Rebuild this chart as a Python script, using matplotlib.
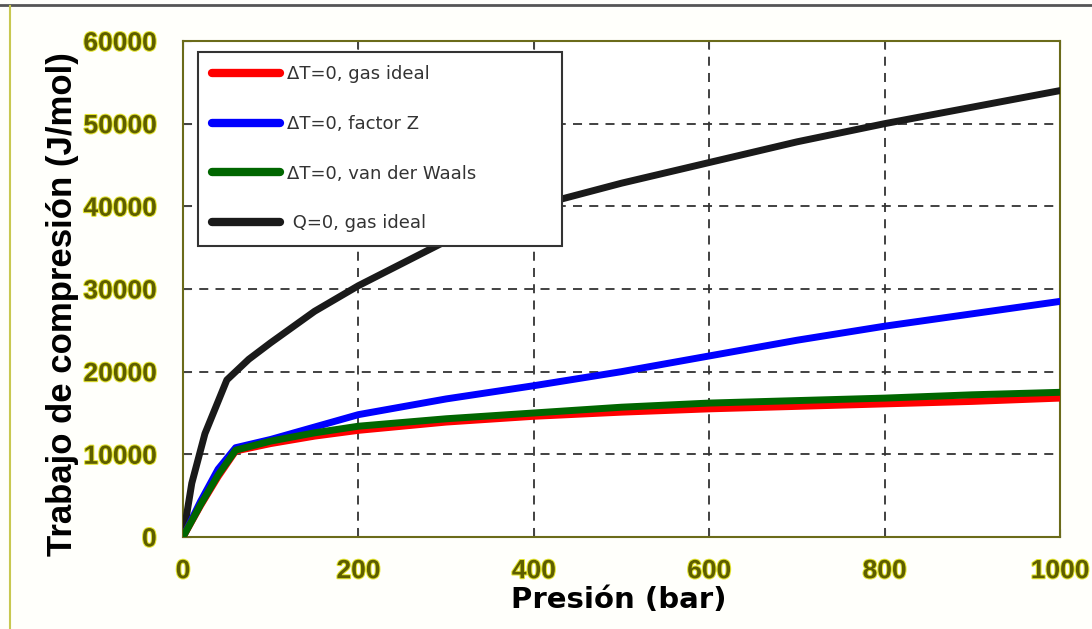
import matplotlib
matplotlib.use("Agg")
import matplotlib.pyplot as plt
import matplotlib.patheffects as pe
from matplotlib.lines import Line2D

# Data (pressure in bar, work in J/mol)
p_iso = [0, 20, 40, 60, 100, 150, 200, 300, 400, 500, 600, 700, 800, 900, 1000]
w_ideal = [0, 3800, 7300, 10400, 11300, 12200, 12900, 13900, 14600, 15100, 15500, 15800, 16100, 16400, 16800]
w_z = [0, 4300, 8200, 10800, 11800, 13300, 14800, 16700, 18300, 20000, 21900, 23800, 25500, 27000, 28500]
w_vdw = [0, 3900, 7500, 10500, 11600, 12600, 13400, 14300, 15000, 15700, 16200, 16500, 16800, 17200, 17500]

p_adi = [0, 10, 25, 50, 75, 100, 150, 200, 300, 400, 500, 600, 700, 800, 900, 1000]
w_adi = [0, 6500, 12500, 19000, 21500, 23500, 27300, 30400, 35800, 40000, 42800, 45300, 47800, 50000, 52000, 54000]

labels = ["\u0394T=0, gas ideal", "\u0394T=0, factor Z", "\u0394T=0, van der Waals", " Q=0, gas ideal"]
colors = ["#ff0000", "#0000ff", "#006600", "#1a1a1a"]

xticks = [0, 200, 400, 600, 800, 1000]
yticks = [0, 10000, 20000, 30000, 40000, 50000, 60000]

fig = plt.figure(figsize=(10.92, 6.29), dpi=100)
fig.patch.set_facecolor("#fffffb")
ax = fig.add_axes([0.1676, 0.1463, 0.8031, 0.7885])
ax.set_facecolor("white")

lw = 5.0
ax.plot(p_adi, w_adi, color=colors[3], lw=lw, solid_capstyle="round", solid_joinstyle="round", zorder=3)
ax.plot(p_iso, w_z, color=colors[1], lw=lw, solid_capstyle="round", solid_joinstyle="round", zorder=3)
ax.plot(p_iso, w_ideal, color=colors[0], lw=lw, solid_capstyle="round", solid_joinstyle="round", zorder=4)
ax.plot(p_iso, w_vdw, color=colors[2], lw=lw, solid_capstyle="round", solid_joinstyle="round", zorder=5)

ax.set_xlim(0, 1000)
ax.set_ylim(0, 60000)
ax.set_xticks(xticks)
ax.set_yticks(yticks)
ax.set_xticklabels([str(v) for v in xticks])
ax.set_yticklabels([str(v) for v in yticks])
ax.grid(True, color="#333333", linestyle=(0, (5, 4)), linewidth=1.3)

for s in ax.spines.values():
    s.set_color("#6b6b1a")
    s.set_linewidth(1.5)

ax.tick_params(direction="in", length=6, color="#444444", top=True, right=False)
ax.tick_params(axis="y", pad=19)
ax.tick_params(axis="x", pad=16)
halo = [pe.withStroke(linewidth=1.5, foreground="#e4e430")]
for t in ax.get_xticklabels() + ax.get_yticklabels():
    t.set_fontfamily("Liberation Sans")
    t.set_fontweight("bold")
    t.set_fontsize(19)
    t.set_color("#5e5e00")
    t.set_path_effects(halo)

ax.set_xlabel("Presión (bar)", fontsize=21, fontweight="bold", family="DejaVu Sans")
ax.set_ylabel("Trabajo de compresión (J/mol)", fontsize=25, fontweight="bold", family="Liberation Sans")
ax.xaxis.set_label_coords(0.497, -0.128)
ax.xaxis.label.set_va("center")
ax.yaxis.set_label_coords(-0.137, 0.47)
ax.yaxis.label.set_va("center")

handles = [Line2D([0], [0], color=c, lw=6, solid_capstyle="round") for c in colors]
leg = ax.legend(handles, labels, loc="upper left", bbox_to_anchor=(0.0171, 0.0, 0.4155, 0.978),
                mode="expand", frameon=True, fancybox=False, edgecolor="#333333", facecolor="white",
                framealpha=1, handlelength=3.8, handletextpad=0.4, labelspacing=1.75,
                borderpad=0.75, borderaxespad=0.0,
                prop={"family": "DejaVu Sans", "size": 13})
leg.get_frame().set_linewidth(1.5)
for t in leg.get_texts():
    t.set_color("#333333")
leg.set_zorder(10)

# outer frame decorations
fig.add_artist(Line2D([0, 1], [0.992, 0.992], color="#555555", lw=2, transform=fig.transFigure))
fig.add_artist(Line2D([0.0095, 0.0095], [0, 0.99], color="#c8c850", lw=1.5, transform=fig.transFigure))

fig.savefig("out.png", dpi=100, facecolor=fig.get_facecolor())
